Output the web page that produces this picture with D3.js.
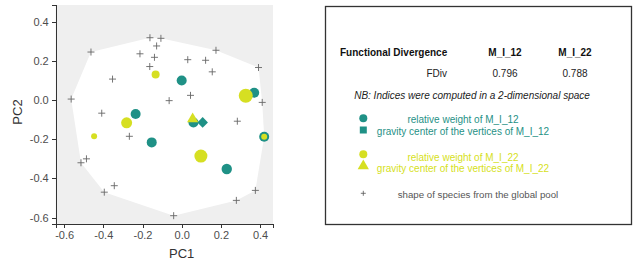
<!DOCTYPE html>
<meta charset="utf-8">
<style>
  body { margin: 0; background: #fff; }
  .axis path, .axis line { stroke: #333; shape-rendering: crispEdges; }
  .axis text { font-family: "Liberation Sans", Arial, sans-serif; font-size: 11px; fill: #4d4d4d; }
  .box text { font-family: "Liberation Sans", Arial, sans-serif; }
</style>
<body>
<div id="chart"></div>
<script src="https://d3js.org/d3.v7.min.js"></script>
<script>
// species of the global pool (PC1, PC2)
var poolPC1 = [-0.162, -0.106, -0.128, -0.463, -0.213, -0.139, 0.175, 0.031, 0.122, -0.163, 0.156, 0.392, -0.353, -0.564,
               -0.064, 0.045, 0.411, -0.408, 0.284, -0.267, -0.486, -0.514, -0.344, -0.395, 0.376, 0.279, -0.041];
var poolPC2 = [0.318, 0.315, 0.276, 0.245, 0.236, 0.218, 0.254, 0.206, 0.203, 0.171, 0.144, 0.166, 0.107, 0.005,
               -0.003, 0.024, -0.012, -0.067, -0.108, -0.185, -0.300, -0.320, -0.437, -0.470, -0.461, -0.512, -0.590];

// assemblage M_I_12
var m12PC1 = [0.000, 0.370, -0.235, -0.153, 0.230, 0.421, 0.060];
var m12PC2 = [0.100, 0.037, -0.071, -0.216, -0.352, -0.187, -0.115];
var m12W   = [5, 5, 5, 5, 5.2, 5, 5];
var m12Center = [0.107, -0.114];

// assemblage M_I_22
var m22PC1 = [-0.133, 0.327, -0.281, -0.447, 0.098, 0.421];
var m22PC2 = [0.131, 0.022, -0.116, -0.185, -0.286, -0.187];
var m22W   = [4, 7, 5.5, 3, 6.5, 3];
var m22Center = [0.056, -0.097];

var xTicks = [-0.6, -0.4, -0.2, 0.0, 0.2, 0.4];
var yTicks = [-0.6, -0.4, -0.2, 0.0, 0.2, 0.4];

var tableHead = ["Functional Divergence", "M_I_12", "M_I_22"];
var tableRow = ["FDiv", "0.796", "0.788"];

var teal = "#1f9186", yellow = "#d6df22", gray = "#555";

var svg = d3.select("#chart").append("svg")
    .attr("width", 640).attr("height", 266);

var x = d3.scaleLinear().domain([-0.643, 0.466]).range([55.7, 273]);
var y = d3.scaleLinear().domain([-0.634, 0.485]).range([224.3, 5]);

// panel
svg.append("rect")
    .attr("x", x.range()[0]).attr("y", y.range()[1])
    .attr("width", x.range()[1] - x.range()[0])
    .attr("height", y.range()[0] - y.range()[1])
    .attr("fill", "#efefef");

var allPts = poolPC1.map(function(d, i) { return [x(d), y(poolPC2[i])]; })
    .concat(m12PC1.map(function(d, i) { return [x(d), y(m12PC2[i])]; }));
var hull = d3.polygonHull(allPts);
svg.append("path")
    .attr("d", "M" + hull.join("L") + "Z")
    .attr("fill", "#fff");

// pool species
svg.selectAll(".pool").data(poolPC1).enter().append("path")
    .attr("class", "pool")
    .attr("transform", function(d, i) { return "translate(" + x(d) + "," + y(poolPC2[i]) + ")"; })
    .attr("d", "M-3.5,0H3.5M0,-3.5V3.5")
    .attr("stroke", "#666").attr("stroke-width", 0.9).attr("fill", "none");

// M_I_12
svg.selectAll(".m12").data(m12PC1).enter().append("circle")
    .attr("cx", function(d) { return x(d); })
    .attr("cy", function(d, i) { return y(m12PC2[i]); })
    .attr("r", function(d, i) { return m12W[i]; })
    .attr("fill", teal);
svg.append("path")
    .attr("d", d3.symbol(d3.symbolSquare).size(56))
    .attr("transform", "translate(" + x(m12Center[0]) + "," + y(m12Center[1]) + ") rotate(45)")
    .attr("fill", teal);

// M_I_22
svg.selectAll(".m22").data(m22PC1).enter().append("circle")
    .attr("cx", function(d) { return x(d); })
    .attr("cy", function(d, i) { return y(m22PC2[i]); })
    .attr("r", function(d, i) { return m22W[i]; })
    .attr("fill", yellow);
svg.append("path")
    .attr("d", d3.symbol(d3.symbolTriangle).size(55))
    .attr("transform", "translate(" + x(m22Center[0]) + "," + y(m22Center[1]) + ")")
    .attr("fill", yellow);

// axes
svg.append("g").attr("class", "axis")
    .attr("transform", "translate(0," + y.range()[0] + ")")
    .call(d3.axisBottom(x).tickValues(xTicks).tickSizeOuter(0).tickSize(4).tickPadding(3)
        .tickFormat(d3.format(".1f")));
svg.append("g").attr("class", "axis")
    .attr("transform", "translate(" + x.range()[0] + ",0)")
    .call(d3.axisLeft(y).tickValues(yTicks).tickSizeOuter(0).tickSize(4).tickPadding(3)
        .tickFormat(d3.format(".1f")));
svg.selectAll(".axis text").text(function() { return this.textContent.replace("−", "-"); });

svg.append("text").attr("x", 181.7).attr("y", 258)
    .attr("text-anchor", "middle")
    .style("font-family", "Liberation Sans, Arial, sans-serif").style("font-size", "13px").attr("fill", "#333")
    .text("PC1");
svg.append("text").attr("transform", "translate(21.5,112) rotate(-90)")
    .attr("text-anchor", "middle")
    .style("font-family", "Liberation Sans, Arial, sans-serif").style("font-size", "13px").attr("fill", "#333")
    .text("PC2");

// right box
var box = svg.append("g").attr("class", "box");
box.append("rect").attr("x", 325.5).attr("y", 6.5).attr("width", 306).attr("height", 218)
    .attr("fill", "#fff").attr("stroke", "#333").attr("stroke-width", 1.3);

var colX = [447, 505, 575];
box.selectAll(".head").data(tableHead).enter().append("text")
    .attr("x", function(d, i) { return i === 0 ? 340 : colX[i]; })
    .attr("y", 55.5)
    .attr("text-anchor", function(d, i) { return i === 0 ? "start" : "middle"; })
    .style("font-size", "10px").style("font-weight", "bold").attr("fill", "#111")
    .text(function(d) { return d; });
box.selectAll(".row").data(tableRow).enter().append("text")
    .attr("x", function(d, i) { return colX[i]; })
    .attr("y", 77)
    .attr("text-anchor", function(d, i) { return i === 0 ? "end" : "middle"; })
    .style("font-size", "10px").attr("fill", "#222")
    .text(function(d) { return d; });
box.append("text").attr("x", 472).attr("y", 99)
    .attr("text-anchor", "middle")
    .style("font-size", "10px").style("font-style", "italic").attr("fill", "#222")
    .text("NB: Indices were computed in a 2-dimensional space");

// legend
box.append("circle").attr("cx", 363.3).attr("cy", 118.3).attr("r", 4).attr("fill", teal);
box.append("rect").attr("x", 359.8).attr("y", 126.5).attr("width", 7).attr("height", 7).attr("fill", teal);
box.append("text").attr("x", 463).attr("y", 122.8).attr("text-anchor", "middle")
    .style("font-size", "10px").attr("fill", teal).text("relative weight of M_I_12");
box.append("text").attr("x", 463).attr("y", 135).attr("text-anchor", "middle")
    .style("font-size", "10px").attr("fill", teal).text("gravity center of the vertices of M_I_12");

box.append("circle").attr("cx", 363.3).attr("cy", 154.3).attr("r", 4).attr("fill", yellow);
box.append("path").attr("d", d3.symbol(d3.symbolTriangle).size(55))
    .attr("transform", "translate(363.3,166)").attr("fill", yellow);
box.append("text").attr("x", 463).attr("y", 160.8).attr("text-anchor", "middle")
    .style("font-size", "10px").attr("fill", yellow).text("relative weight of M_I_22");
box.append("text").attr("x", 463).attr("y", 172).attr("text-anchor", "middle")
    .style("font-size", "10px").attr("fill", yellow).text("gravity center of the vertices of M_I_22");

box.append("path").attr("d", "M-2.5,0H2.5M0,-2.5V2.5")
    .attr("transform", "translate(363.3,193.3)").attr("stroke", gray).attr("stroke-width", 0.8);
box.append("text").attr("x", 478).attr("y", 197.8).attr("text-anchor", "middle")
    .style("font-size", "9.7px").attr("fill", "#555").text("shape of species from the global pool");
</script>
</body>
